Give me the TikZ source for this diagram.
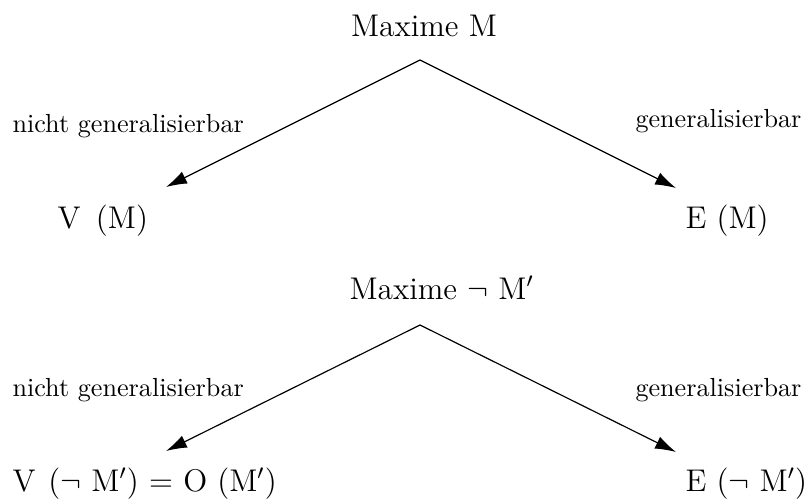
\documentclass[tikz,border=0pt]{standalone}
\usetikzlibrary{arrows.meta}
\begin{document}
\begin{tikzpicture}[x=0.3825pt,y=-0.3825pt,
  lbl/.style={inner sep=0pt,font=\normalsize},
  big/.style={inner sep=0pt,font=\large},
  arr/.style={line width=0.45pt,-{Latex[length=8pt,width=5pt]}}]
\useasboundingbox (0,0) rectangle (808,498);
% upper tree
\node[big,anchor=base] (m1) at (424,36) {Maxime M};
\coordinate (a1) at (420,60);
\coordinate (l1) at (166,187);
\coordinate (r1) at (676,188);
\draw[arr] (a1) -- (l1);
\draw[arr] (a1) -- (r1);
\node[lbl,anchor=base west] (n1) at (12,132) {nicht generalisierbar};
\node[lbl,anchor=base east] (g1) at (802,127) {generalisierbar};
\node[big,anchor=base west] (v1) at (57,228) {V\hspace{2pt} (M)};
\node[big,anchor=base west] (e1) at (685,228) {E (M)};
% lower tree
\node[big,anchor=base west] (m2) at (349,299) {Maxime $\neg$ M$'$};
\coordinate (a2) at (420,325);
\coordinate (l2) at (166,451);
\coordinate (r2) at (676,452);
\draw[arr] (a2) -- (l2);
\draw[arr] (a2) -- (r2);
\node[lbl,anchor=base west] (n2) at (12,396) {nicht generalisierbar};
\node[lbl,anchor=base east] (g2) at (802,396) {generalisierbar};
\node[big,anchor=base west] (v2) at (12,491) {V\hspace{1pt} ($\neg$ M$'$) $=$ O (M$'$)};
\node[big,anchor=base west] (e2) at (685,491) {E ($\neg$ M$'$)};
\end{tikzpicture}
\end{document}
